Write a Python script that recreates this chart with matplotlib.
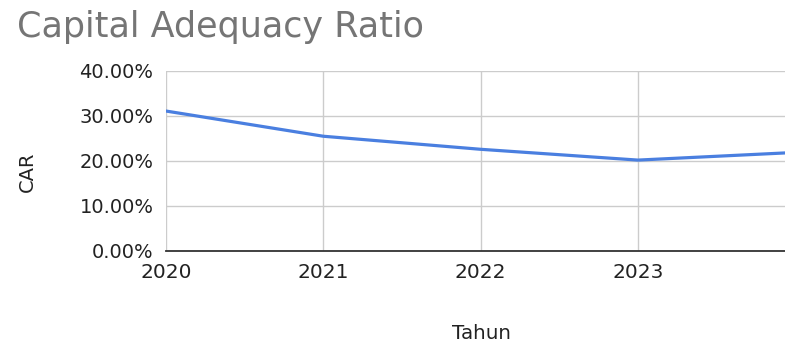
import matplotlib

matplotlib.use("Agg")

import matplotlib.pyplot as plt
from matplotlib.ticker import FuncFormatter

plt.rcParams["font.family"] = ["DejaVu Sans"]

YEARS = [2020, 2021, 2022, 2023, 2024]
CAR_VALUES = [31.1, 25.5, 22.6, 20.2, 21.9]
X_TICKS = [2020, 2021, 2022, 2023]
Y_TICKS = [0, 10, 20, 30, 40]

LINE_COLOR = "#4a7fe0"
GRID_COLOR = "#cccccc"


def main() -> None:
    figure = plt.figure(figsize=(7.85, 3.47), dpi=100)
    axis = figure.add_axes([0.2115, 0.2767, 0.7885, 0.5187])

    axis.plot(YEARS, CAR_VALUES, color=LINE_COLOR, linewidth=2.3, solid_capstyle="round")

    axis.set_xlim(2020, 2023.935)
    axis.set_ylim(0, 40)
    axis.set_xticks(X_TICKS)
    axis.set_yticks(Y_TICKS)
    axis.yaxis.set_major_formatter(FuncFormatter(lambda v, _: f"{v:.2f}%"))

    axis.grid(True, color=GRID_COLOR, linewidth=1.0)
    axis.set_axisbelow(True)
    for side in ("top", "right", "left"):
        axis.spines[side].set_visible(False)
    axis.spines["bottom"].set_color("#333333")
    axis.spines["bottom"].set_linewidth(1.3)
    axis.spines["bottom"].set_zorder(3)

    axis.tick_params(axis="both", length=0, labelcolor="#222222")
    axis.tick_params(axis="y", labelsize=14, pad=9)
    axis.tick_params(axis="x", labelsize=14.5, pad=9)

    axis.set_xlabel("Tahun", fontsize=14.3, color="#222222", labelpad=30, x=0.509)
    axis.set_ylabel("CAR", fontsize=14, color="#222222", labelpad=31, y=0.44)

    figure.text(0.022, 0.893, "Capital Adequacy Ratio", fontsize=25.2,
                color="#757575", ha="left", va="baseline")

    figure.savefig("out.png", dpi=100)
    plt.close(figure)


if __name__ == "__main__":
    main()
